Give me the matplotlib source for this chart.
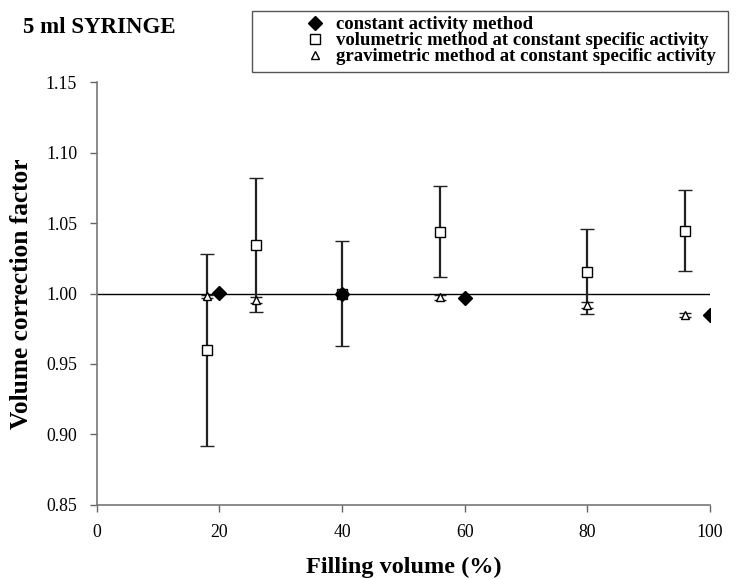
import numpy as np
import matplotlib.pyplot as plt
from matplotlib.patches import Rectangle

plt.rcParams['font.family'] = ['Liberation Serif', 'DejaVu Serif']

# constant activity method
x_const = [20, 40, 60, 100]
y_const = [1.0005, 1.000, 0.9965, 0.985]

# volumetric method at constant specific activity
x_vol = [18, 26, 40, 56, 80, 96]
y_vol = [0.960, 1.0345, 1.000, 1.044, 1.0156, 1.0447]
e_vol = [0.068, 0.0475, 0.037, 0.032, 0.030, 0.029]

# gravimetric method at constant specific activity
x_grav = [18, 26, 40, 56, 80, 96]
y_grav = [0.998, 0.9955, 1.000, 0.9972, 0.992, 0.985]
e_grav = [0.0012, 0.002, 0.001, 0.0015, 0.002, 0.0015]

x_ticks = [0, 20, 40, 60, 80, 100]
y_ticks = [0.85, 0.90, 0.95, 1.00, 1.05, 1.10, 1.15]

fig = plt.figure(figsize=(7.36, 5.79), dpi=100)
ax = fig.add_axes([0.1314, 0.128, 0.8333, 0.73])

ax.plot([0, 100], [1.0, 1.0], color='black', lw=1.0, zorder=1)

vol = ax.errorbar(x_vol, y_vol, yerr=e_vol, fmt='s', ms=7, mfc='white', mec='black',
                  mew=1.0, ecolor='#222222', elinewidth=1.6, capsize=5, capthick=1.4,
                  zorder=3)
grav = ax.errorbar(x_grav, y_grav, yerr=e_grav, fmt='^', ms=6, mfc='white', mec='black',
                   mew=1.0, ecolor='#222222', elinewidth=1.2, capsize=4, capthick=1.4,
                   zorder=4)
const, = ax.plot(x_const, y_const, 'D', ms=7, color='black', zorder=5)

ax.set_xlim(0, 100)
ax.set_ylim(0.85, 1.15)
ax.set_xticks(x_ticks)
ax.set_yticks(y_ticks)
ax.set_yticklabels(['%.2f' % v for v in y_ticks])
ax.tick_params(direction='out', length=5, width=1, color='#666666', labelsize=12.8)
ax.tick_params(axis='y', pad=9)
ax.tick_params(axis='x', pad=9)
for s in ['top', 'right']:
    ax.spines[s].set_visible(False)
for s in ['left', 'bottom']:
    ax.spines[s].set_color('#777777')
    ax.spines[s].set_linewidth(1.2)

ax.set_xlabel('Filling volume (%)', fontsize=17.5, fontweight='bold', va='center')
ax.xaxis.set_label_coords(0.5, -0.149)
ax.set_ylabel('Volume correction factor', fontsize=18.3, fontweight='bold', va='center')
ax.yaxis.set_label_coords(-0.122, 0.5)

fig.text(0.031, 0.952, '5 ml SYRINGE', fontsize=16.5, fontweight='bold', va='center')

# legend box drawn separately so the markers sit inside like the original
fig.patches.append(Rectangle((0.342, 0.8756), 0.647, 0.105, transform=fig.transFigure,
                             fill=False, edgecolor='#555555', lw=1.0))
leg = fig.legend([const, vol.lines[0], grav.lines[0]],
                 ['constant activity method',
                  'volumetric method at constant specific activity',
                  'gravimetric method at constant specific activity'],
                 loc='upper left', bbox_to_anchor=(0.415, 0.972), frameon=False,
                 prop={'weight': 'bold', 'size': 13.5},
                 labelspacing=-0.06, handlelength=1.0, handletextpad=0.62,
                 borderpad=0, borderaxespad=0)

fig.savefig('out.png', dpi=100)
